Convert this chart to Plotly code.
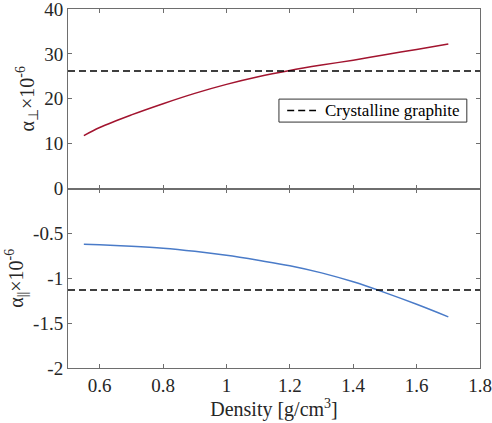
import plotly.graph_objects as go
from plotly.subplots import make_subplots

density = [0.55, 0.6, 0.7, 0.8, 0.9, 1.0, 1.1, 1.2, 1.3, 1.4, 1.5, 1.6, 1.7]
alpha_perp = [11.8, 13.6, 16.4, 18.9, 21.2, 23.2, 24.9, 26.3, 27.5, 28.6, 29.8, 31.0, 32.2]
alpha_par = [-0.622, -0.628, -0.643, -0.665, -0.70, -0.745, -0.80, -0.86, -0.94, -1.04, -1.16, -1.29, -1.43]
graphite_perp = 26.2
graphite_par = -1.13
legend_label = "Crystalline graphite"
x_range = [0.5, 1.8]
x_ticks = [0.6, 0.8, 1.0, 1.2, 1.4, 1.6, 1.8]
x_tick_text = ["0.6", "0.8", "1", "1.2", "1.4", "1.6", "1.8"]
top_ticks = [0, 10, 20, 30, 40]
bot_ticks = [-2, -1.5, -1, -0.5]
bot_tick_text = ["-2", "-1.5", "-1", "-0.5"]

FONT = "Liberation Serif"
AX = "#6e6e6e"
TXT = "#262626"
DASH = "7px,4px"

fig = make_subplots(rows=2, cols=1, shared_xaxes=False, vertical_spacing=0)

fig.add_trace(go.Scatter(x=density, y=alpha_perp, mode="lines",
                         line=dict(color="#A2142F", width=1.5, shape="spline"),
                         showlegend=False), row=1, col=1)
fig.add_trace(go.Scatter(x=x_range, y=[graphite_perp] * 2, mode="lines",
                         line=dict(color="black", width=1.5, dash=DASH),
                         name=legend_label, showlegend=False), row=1, col=1)
fig.add_trace(go.Scatter(x=density, y=alpha_par, mode="lines",
                         line=dict(color="#4A7BC8", width=1.5, shape="spline"),
                         showlegend=False), row=2, col=1)
fig.add_trace(go.Scatter(x=x_range, y=[graphite_par] * 2, mode="lines",
                         line=dict(color="black", width=1.5, dash=DASH),
                         showlegend=False), row=2, col=1)

axcommon = dict(showline=True, linecolor=AX, linewidth=1, mirror="ticks",
                ticks="inside", ticklen=4, tickcolor=AX, showgrid=False,
                zeroline=False, automargin=False, ticklabeloverflow="allow",
                tickfont=dict(family=FONT, size=19, color=TXT))

fig.update_xaxes(range=x_range, tickvals=x_ticks, ticktext=x_tick_text,
                 showticklabels=False, **axcommon, row=1, col=1)
fig.update_xaxes(range=x_range, tickvals=x_ticks, ticktext=x_tick_text,
                 title=dict(text="Density [g/cm<sup>3</sup>]", font=dict(family=FONT, size=20, color=TXT),
                            standoff=0),
                 **axcommon, row=2, col=1)
fig.update_yaxes(range=[0, 40], tickvals=top_ticks,
                 title=dict(text="α<sub>⊥</sub>×10<sup>-6</sup>", font=dict(family=FONT, size=20, color=TXT),
                            standoff=4),
                 **axcommon, row=1, col=1)
fig.update_yaxes(range=[-2, 0], tickvals=bot_ticks, ticktext=bot_tick_text,
                 title=dict(text="α<sub>||</sub>×10<sup>-6</sup>", font=dict(family=FONT, size=20, color=TXT),
                            standoff=4),
                 **axcommon, row=2, col=1)

# legend box drawn in paper coordinates
fig.add_shape(type="rect", xref="paper", yref="paper", x0=0.512, x1=0.968, y0=0.685, y1=0.749,
              line=dict(color="#333", width=1), fillcolor="white", layer="above")
fig.add_shape(type="line", xref="paper", yref="paper", x0=0.532, x1=0.602, y0=0.717, y1=0.717,
              line=dict(color="black", width=1.5, dash=DASH), layer="above")
fig.add_annotation(xref="paper", yref="paper", x=0.619, y=0.717, xanchor="left", yanchor="middle",
                   text=legend_label, showarrow=False,
                   font=dict(family=FONT, size=17, color="black"))

fig.update_layout(
    width=492, height=423,
    margin=dict(l=68, r=12, t=9, b=55, autoexpand=False),
    paper_bgcolor="white", plot_bgcolor="white",
    font=dict(family=FONT, color=TXT),
    showlegend=False,
)
fig.update_yaxes(domain=[0.5, 1.0], row=1, col=1)
fig.update_yaxes(domain=[0.0, 0.5], row=2, col=1)

fig.write_html("out.html")
